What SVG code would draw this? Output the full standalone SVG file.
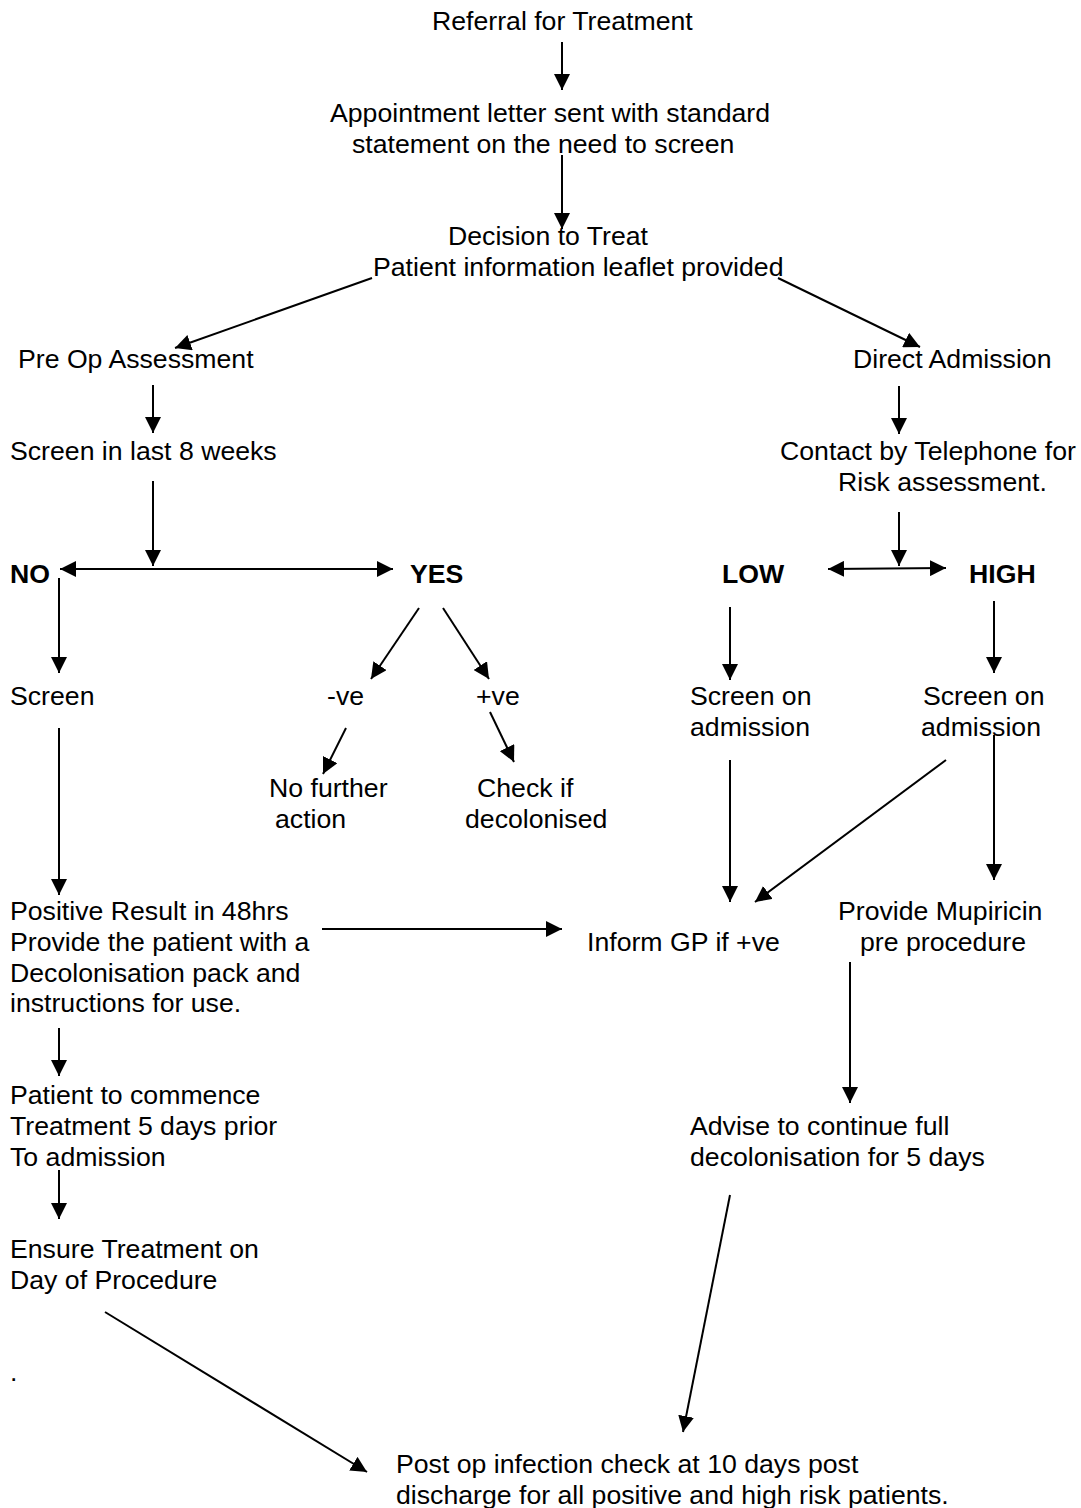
<svg xmlns="http://www.w3.org/2000/svg" width="1081" height="1508" viewBox="0 0 1081 1508">
<style>
text{font-family:"Liberation Sans",Arial,sans-serif;font-size:26.67px;fill:#000}
.b{font-weight:bold}
.c line{stroke:#000;stroke-width:2;marker-end:url(#ah)}
.c line.d{marker-start:url(#ah)}
</style>
<defs>
<marker id="ah" markerUnits="userSpaceOnUse" markerWidth="16" markerHeight="16" viewBox="0 0 15 15" refX="15" refY="7.5" orient="auto-start-reverse"><path d="M0,0L15,7.5L0,15z" fill="#000"/></marker>
</defs>
<rect width="1081" height="1508" fill="#fff"/>
<g id="referral"><text x="432" y="30">Referral for Treatment</text></g>
<g id="appointment"><text x="330" y="122">Appointment letter sent with standard</text><text x="352" y="153">statement on the need to screen</text></g>
<g id="decision"><text x="448" y="245">Decision to Treat</text><text x="373" y="276">Patient information leaflet provided</text></g>
<g id="preop"><text x="18" y="368">Pre Op Assessment</text></g>
<g id="direct"><text x="853" y="368">Direct Admission</text></g>
<g id="screen8"><text x="10" y="460">Screen in last 8 weeks</text></g>
<g id="contact"><text x="780" y="460">Contact by Telephone for</text><text x="838" y="491">Risk assessment.</text></g>
<g id="no"><text class="b" x="10" y="583">NO</text></g>
<g id="yes"><text class="b" x="410" y="583">YES</text></g>
<g id="low"><text class="b" x="722" y="583">LOW</text></g>
<g id="high"><text class="b" x="969" y="583">HIGH</text></g>
<g id="screen"><text x="10" y="705">Screen</text></g>
<g id="neg"><text x="327" y="705">-ve</text></g>
<g id="pos"><text x="476" y="705">+ve</text></g>
<g id="screenlow"><text x="690" y="705">Screen on</text><text x="690" y="736">admission</text></g>
<g id="screenhigh"><text x="923" y="705">Screen on</text><text x="921" y="736">admission</text></g>
<g id="nofurther"><text x="269" y="797">No further</text><text x="275" y="828">action</text></g>
<g id="checkdecol"><text x="477" y="797">Check if</text><text x="465" y="828">decolonised</text></g>
<g id="positive"><text x="10" y="920">Positive Result in 48hrs</text><text x="10" y="951">Provide the patient with a</text><text x="10" y="982">Decolonisation pack and</text><text x="10" y="1012">instructions for use.</text></g>
<g id="informgp"><text x="587" y="951">Inform GP if +ve</text></g>
<g id="mupiricin"><text x="838" y="920">Provide Mupiricin</text><text x="860" y="951">pre procedure</text></g>
<g id="commence"><text x="10" y="1104">Patient to commence</text><text x="10" y="1135">Treatment 5 days prior</text><text x="10" y="1166">To admission</text></g>
<g id="advise"><text x="690" y="1135">Advise to continue full</text><text x="690" y="1166">decolonisation for 5 days</text></g>
<g id="ensure"><text x="10" y="1258">Ensure Treatment on</text><text x="10" y="1289">Day of Procedure</text></g>
<g id="dot"><text x="10" y="1381">.</text></g>
<g id="postop"><text x="396" y="1473">Post op infection check at 10 days post</text><text x="396" y="1504">discharge for all positive and high risk patients.</text></g>
<g id="connectors" class="c">
<line x1="562" y1="42" x2="562" y2="90"/>
<line x1="562" y1="155" x2="562" y2="229"/>
<line x1="372" y1="278" x2="175" y2="348"/>
<line x1="778" y1="278" x2="920" y2="347"/>
<line x1="153" y1="385" x2="153" y2="433"/>
<line x1="153" y1="481" x2="153" y2="566"/>
<line class="d" x1="60" y1="569" x2="393" y2="569"/>
<line x1="59" y1="578" x2="59" y2="673"/>
<line x1="419" y1="608" x2="371" y2="679"/>
<line x1="443" y1="608" x2="489" y2="679"/>
<line x1="346" y1="728" x2="323" y2="774"/>
<line x1="490" y1="712" x2="514" y2="762"/>
<line x1="899" y1="386" x2="899" y2="434"/>
<line x1="899" y1="512" x2="899" y2="566"/>
<line class="d" x1="828" y1="569" x2="946" y2="568"/>
<line x1="730" y1="607" x2="730" y2="680"/>
<line x1="994" y1="601" x2="994" y2="673"/>
<line x1="59" y1="728" x2="59" y2="895"/>
<line x1="730" y1="760" x2="730" y2="902"/>
<line x1="946" y1="760" x2="755" y2="902"/>
<line x1="994" y1="735" x2="994" y2="880"/>
<line x1="322" y1="929" x2="562" y2="929"/>
<line x1="850" y1="962" x2="850" y2="1103"/>
<line x1="59" y1="1028" x2="59" y2="1076"/>
<line x1="59" y1="1170" x2="59" y2="1219"/>
<line x1="730" y1="1195" x2="683" y2="1432"/>
<line x1="105" y1="1312" x2="367" y2="1472"/>
</g>
</svg>
